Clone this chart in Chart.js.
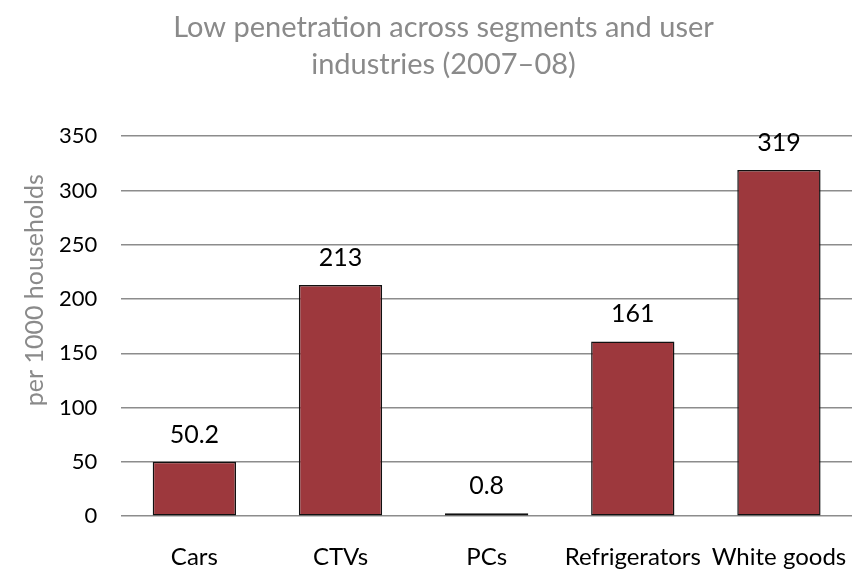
<!DOCTYPE html>
<html>
<head>
<meta charset="utf-8">
<script src="https://cdn.jsdelivr.net/npm/chart.js@4"></script>
<style>
  html, body { margin: 0; padding: 0; background: #fff; }
  #wrap { width: 860px; height: 570px; }
</style>
</head>
<body>
<div id="wrap"><canvas id="chart" width="860" height="570"></canvas></div>
<script>
const categories = ['Cars', 'CTVs', 'PCs', 'Refrigerators', 'White goods'];
const values = [50.2, 213, 0.8, 161, 319];
const valueLabels = ['50.2', '213', '0.8', '161', '319'];
const titleLines = ['Low penetration across segments and user', 'industries (2007\u201308)'];
const yTitle = 'per 1000 households';

const FONT = 'Lato, "Noto Sans", sans-serif';

// labels above each bar
const barLabels = {
  id: 'barLabels',
  afterDatasetsDraw(c) {
    const ctx = c.ctx;
    const meta = c.getDatasetMeta(0);
    ctx.save();
    ctx.font = '25px ' + FONT;
    ctx.fillStyle = '#000';
    ctx.textAlign = 'center';
    ctx.textBaseline = 'middle';
    meta.data.forEach((bar, i) => {
      ctx.fillText(valueLabels[i], bar.x, bar.y - 27);
    });
    ctx.restore();
  }
};

// y axis title, sits a bit above the middle like the original
const yAxisTitle = {
  id: 'yAxisTitle',
  afterDraw(c) {
    const ctx = c.ctx;
    const a = c.chartArea;
    ctx.save();
    ctx.translate(35, (a.top + a.bottom) / 2 - 36);
    ctx.rotate(-Math.PI / 2);
    ctx.font = '25px ' + FONT;
    ctx.fillStyle = '#8a8a8a';
    ctx.textAlign = 'center';
    ctx.textBaseline = 'middle';
    ctx.fillText(yTitle, 0, 0);
    ctx.restore();
  }
};

new Chart(document.getElementById('chart'), {
  type: 'bar',
  data: {
    labels: categories,
    datasets: [{
      data: values,
      backgroundColor: '#9d383d',
      borderColor: '#111',
      borderWidth: 1.5,
      borderSkipped: false,
      minBarLength: 3,
      barPercentage: 0.57,
      categoryPercentage: 1
    }]
  },
  options: {
    responsive: false,
    animation: false,
    layout: { padding: { top: 0, right: 8, bottom: -29, left: 35 } },
    plugins: {
      legend: { display: false },
      tooltip: { enabled: false },
      title: {
        display: true,
        text: titleLines,
        color: '#8a8a8a',
        font: { family: FONT, size: 29, weight: 'normal', lineHeight: 1.28 },
        padding: { top: 9, bottom: 53 }
      }
    },
    scales: {
      x: {
        grid: { display: false, drawTicks: false },
        border: { display: false },
        ticks: { color: '#000', font: { family: FONT, size: 24 }, padding: 27, maxRotation: 0 },
        // labels fit inside their categories, no extra side padding
        afterFit(scale) {
          scale.paddingLeft = 0;
          scale.paddingRight = 0;
        }
      },
      y: {
        min: 0,
        max: 350,
        ticks: { stepSize: 50, color: '#000', font: { family: FONT, size: 22 }, padding: 24 },
        grid: { color: '#8c8c8c', lineWidth: 1.5, drawTicks: false },
        border: { display: false }
      }
    }
  },
  plugins: [barLabels, yAxisTitle]
});
</script>
</body>
</html>
